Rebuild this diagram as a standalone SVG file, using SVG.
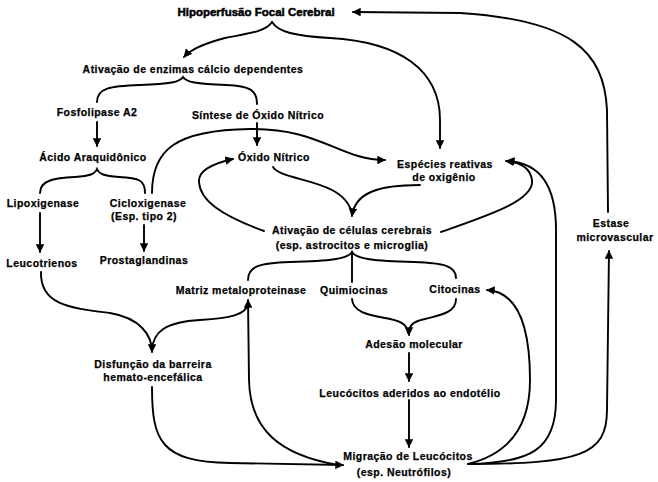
<svg xmlns="http://www.w3.org/2000/svg" width="658" height="482" viewBox="0 0 658 482">
<defs>
<marker id="ah" viewBox="0 0 10 10" refX="9" refY="5" markerWidth="4.5" markerHeight="4.5" orient="auto" markerUnits="strokeWidth">
<path d="M0,0 L10,5 L0,10 Z" fill="#000"/>
</marker>
<style>
.t{font-family:"Liberation Sans",Arial,sans-serif;font-weight:bold;font-size:10.5px;letter-spacing:0.45px;text-anchor:middle;fill:#000;stroke:#000;stroke-width:0.25px}
.h{font-family:"Liberation Sans",Arial,sans-serif;font-weight:bold;font-size:11.5px;text-anchor:middle;fill:#000;stroke:#000;stroke-width:0.5px}
.c path{fill:none;stroke:#000;stroke-width:1.9;stroke-linecap:round}
.a{marker-end:url(#ah)}
</style>
</defs>
<rect width="658" height="482" fill="#fff"/>
<g class="c" id="connectors">
<path class="a" d="M272,22 C266,32 245,34 225,38 C202,44 190,50 184,57"/>
<path class="a" d="M272,22 C278,32 295,36 330,38 C400,42 440,70 440,120 L440,148"/>
<path class="a" d="M608,212 L607,110 C604,50 570,20 460,13 L353,12"/>
<path d="M97,102 C97,88 110,86 140,85 C170,84 180,82 183,77 C186,82 196,84 226,85 C250,86 257,90 257,104"/>
<path class="a" d="M97,122 L97,146"/>
<path class="a" d="M257,123 L257,145"/>
<path class="a" d="M152,193 C152,150 175,130 250,129 C320,128 340,160 385,160"/>
<path class="a" d="M264,231 C220,215 200,200 199,182 C198,170 215,163 233,159"/>
<path d="M273,167 C282,182 345,178 352,214"/>
<path class="a" d="M420,185 C380,185 355,192 352,216"/>
<path class="a" d="M441,232 C490,215 535,200 532,180 C530,166 518,162 506,161"/>
<path d="M40,193 C40,180 55,178 75,177 C90,176 95,174 97,169 C99,174 104,176 119,177 C139,178 145,180 145,193"/>
<path class="a" d="M40,213 L40,252"/>
<path class="a" d="M144,225 L144,251"/>
<path d="M248,280 C248,266 260,263 290,262 C330,261 348,259 352,252 C356,259 374,261 414,262 C444,263 456,266 456,278"/>
<path d="M352,252 L352,282"/>
<path d="M352,299 C353,313 370,315 390,319 C404,322 407,326 408,333"/>
<path class="a" d="M456,299 C456,313 440,315 425,319 C411,322 409,326 409,335"/>
<path class="a" d="M409,353 L409,381"/>
<path class="a" d="M409,400 L409,447"/>
<path class="a" d="M41,272 C40,305 70,308 110,313 C140,318 152,335 152,352"/>
<path d="M248,304 C246,315 230,318 200,320 C165,322 153,332 152,350"/>
<path class="a" d="M338,465 C280,455 250,430 249,380 L248,300"/>
<path class="a" d="M152,387 C152,440 160,462 230,463 L343,465"/>
<path class="a" d="M468,464 C505,455 530,430 530,380 C530,330 520,292 487,290"/>
<path class="a" d="M468,464 C530,463 556,450 556,400 L556,230 C556,185 540,163 507,161"/>
<path class="a" d="M468,464 C580,464 607,455 607,410 L609,251"/>
</g>
<g id="n_hipo"><text class="h" x="256" y="16">Hipoperfusão Focal Cerebral</text></g>
<g id="n_enzimas"><text class="t" x="193" y="73">Ativação de enzimas cálcio dependentes</text></g>
<g id="n_fosfo"><text class="t" x="97" y="116">Fosfolipase A2</text></g>
<g id="n_sintese"><text class="t" x="258" y="119">Síntese de Óxido Nítrico</text></g>
<g id="n_acido"><text class="t" x="93" y="161">Ácido Araquidônico</text></g>
<g id="n_oxido"><text class="t" x="274" y="161">Óxido Nítrico</text></g>
<g id="n_especies"><text class="t" x="445" y="168">Espécies reativas</text><text class="t" x="444" y="181">de oxigênio</text></g>
<g id="n_lipo"><text class="t" x="43" y="207">Lipoxigenase</text></g>
<g id="n_ciclo"><text class="t" x="148" y="207">Cicloxigenase</text><text class="t" x="144" y="220">(Esp. tipo 2)</text></g>
<g id="n_leuco"><text class="t" x="42" y="267">Leucotrienos</text></g>
<g id="n_prosta"><text class="t" x="144" y="264">Prostaglandinas</text></g>
<g id="n_ativacao"><text class="t" x="352" y="234">Ativação de células cerebrais</text><text class="t" x="352" y="249">(esp. astrocitos e microglia)</text></g>
<g id="n_matriz"><text class="t" x="241" y="294">Matriz metaloproteinase</text></g>
<g id="n_quimio"><text class="t" x="354" y="294">Quimiocinas</text></g>
<g id="n_cito"><text class="t" x="455" y="293">Citocinas</text></g>
<g id="n_adesao"><text class="t" x="414" y="348">Adesão molecular</text></g>
<g id="n_aderidos"><text class="t" x="410" y="397">Leucócitos aderidos ao endotélio</text></g>
<g id="n_migracao"><text class="t" x="408" y="460">Migração de Leucócitos</text><text class="t" x="404" y="476">(esp. Neutrófilos)</text></g>
<g id="n_disfuncao"><text class="t" x="153" y="368">Disfunção da barreira</text><text class="t" x="153" y="381">hemato-encefálica</text></g>
<g id="n_estase"><text class="t" x="611" y="227">Estase</text><text class="t" x="615" y="241">microvascular</text></g>
</svg>
